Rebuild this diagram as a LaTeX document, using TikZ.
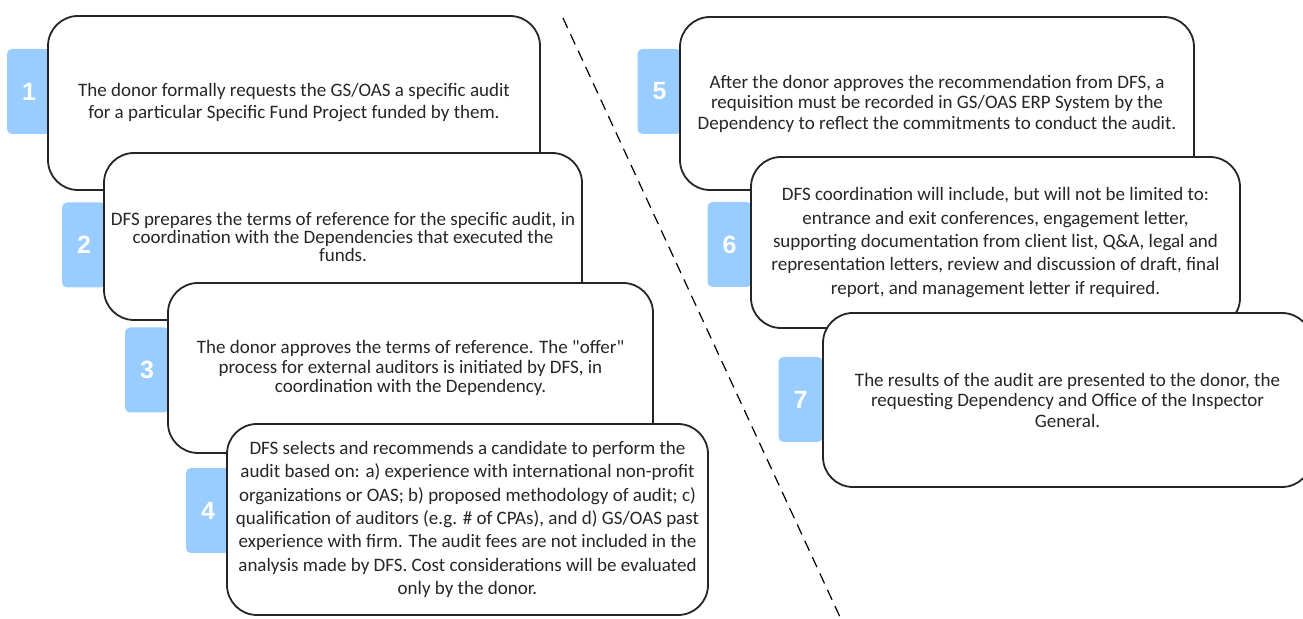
\documentclass[tikz,border=0pt]{standalone}
\usepackage{fontspec}
\setmainfont{Carlito}
\newfontfamily\numfont{Liberation Sans}
\usepackage{tikz}
\definecolor{badgeblue}{HTML}{99CCFF}
\definecolor{inkgray}{HTML}{262626}

\begin{document}
\begin{tikzpicture}[x=0.5pt,y=-0.5pt,
stepbox/.style={draw=inkgray, line width=0.9pt, fill=white, rounded corners=15pt, align=center, text=inkgray, inner sep=0pt, font=\fontsize{9.5}{#1}\selectfont},
stepbox/.default=11.7,
badge/.style={fill=badgeblue, rounded corners=2.5pt, minimum width=22pt, minimum height=42.5pt, inner sep=0pt, text=white, font=\numfont\bfseries\fontsize{12.5}{14}\selectfont}]
\useasboundingbox (0,0) rectangle (1303,619);

\coordinate (cut top) at (563,18);
\coordinate (cut bottom) at (840,617);
\draw[dash pattern=on 5.5pt off 3.5pt, line width=0.6pt] (cut top) -- (cut bottom);

\node[badge] (n1) at (29,91.5) {1};
\node[stepbox=11, minimum width=246pt, minimum height=87pt] (s1) at (294,103) {The donor formally requests the GS/OAS a specific audit\\for a particular Specific Fund Project funded by them.};
\node[badge] (n2) at (84,245) {2};
\node[stepbox=9, minimum width=239pt, minimum height=83.5pt] (s2) at (343,236.5) {DFS prepares the terms of reference for the specific audit, in\\coordination with the Dependencies that executed the\\funds.};
\node[badge] (n3) at (147,370) {3};
\node[stepbox=9.75, minimum width=242.5pt, minimum height=85pt] (s3) at (410.5,368) {The donor approves the terms of reference. The \textquotedbl offer\textquotedbl\\process for external auditors is initiated by DFS, in\\coordination with the Dependency.};
\node[badge] (n4) at (208,510.5) {4};
\node[stepbox, minimum width=240.5pt, minimum height=95.5pt] (s4) at (467.5,519.5) {DFS selects and recommends a candidate to perform the\\audit based on: a) experience with international non-profit\\organizations or OAS; b) proposed methodology of audit; c)\\qualification of auditors (e.g. \# of CPAs), and d) GS/OAS past\\experience with firm. The audit fees are not included in the\\analysis made by DFS. Cost considerations will be evaluated\\only by the donor.};

\node[badge] (n5) at (659.5,91.5) {5};
\node[stepbox=10.25, minimum width=257pt, minimum height=86.5pt] (s5) at (937,103.5) {After the donor approves the recommendation from DFS, a\\requisition must be recorded in GS/OAS ERP System by the\\Dependency to reflect the commitments to conduct the audit.};
\node[badge] (n6) at (729.5,244.5) {6};
\node[stepbox, minimum width=244.5pt, minimum height=85.5pt] (s6) at (995.5,242.5) {DFS coordination will include, but will not be limited to:\\entrance and exit conferences, engagement letter,\\supporting documentation from client list, Q\&A, legal and\\representation letters, review and discussion of draft, final\\report, and management letter if required.};
\node[badge] (n7) at (800.5,399.5) {7};
\node[stepbox=10.25, minimum width=244.5pt, minimum height=87pt] (s7) at (1067.5,400) {The results of the audit are presented to the donor, the\\requesting Dependency and Office of the Inspector\\General.};

\end{tikzpicture}
\end{document}
